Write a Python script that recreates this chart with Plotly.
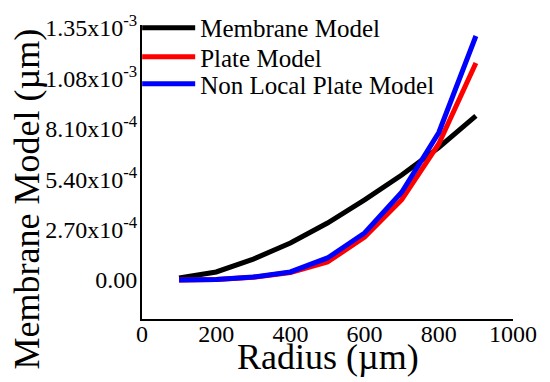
import plotly.graph_objects as go

radius = [100, 200, 300, 400, 500, 600, 700, 800, 900]
membrane = [1.1e-5, 4.3e-5, 1.12e-4, 1.98e-4, 3.05e-4, 4.29e-4, 5.62e-4, 7.1e-4, 8.79e-4]
plate = [0.0, 3e-6, 1.4e-5, 4.0e-5, 9.6e-5, 2.3e-4, 4.3e-4, 7.3e-4, 1.162e-3]
nonlocal_plate = [0.0, 3e-6, 1.6e-5, 4.3e-5, 1.18e-4, 2.52e-4, 4.7e-4, 7.9e-4, 1.307e-3]

series_names = ["Membrane Model", "Plate Model", "Non Local Plate Model"]
series_colors = ["#000000", "#ff0000", "#0000ff"]

ytick_vals = [0.0, 2.7e-4, 5.4e-4, 8.1e-4, 1.08e-3, 1.35e-3]
ytick_text = ["0.00", "2.70x10<sup>-4</sup>", "5.40x10<sup>-4</sup>", "8.10x10<sup>-4</sup>",
              "1.08x10<sup>-3</sup>", "1.35x10<sup>-3</sup>"]
xtick_vals = [0, 200, 400, 600, 800, 1000]

FONT = "Liberation Serif"
LEG_FONT = dict(family=FONT, size=25, color="black")

fig = go.Figure()
legend_ids = ["legend", "legend2", "legend3"]
for name, ys, col, lg in zip(series_names, [membrane, plate, nonlocal_plate], series_colors, legend_ids):
    fig.add_trace(go.Scatter(x=radius, y=ys, mode="lines", name=name, legend=lg,
                             line=dict(color=col, width=5)))

def leg(y):
    return dict(x=-0.013, y=y, xanchor="left", yanchor="middle", bgcolor="rgba(0,0,0,0)",
                font=LEG_FONT, itemwidth=53, borderwidth=0)

# page has an 8px body margin, so the figure is drawn 8px smaller and shifted
fig.update_layout(
    width=542, height=374,
    margin=dict(l=134, r=37, t=17, b=63, autoexpand=False),
    paper_bgcolor="white", plot_bgcolor="white",
    font=dict(family=FONT, color="black"),
    showlegend=True,
    legend=leg(0.990), legend2=leg(0.891), legend3=leg(0.799),
    xaxis=dict(range=[0, 1000], tickvals=xtick_vals, showgrid=False, zeroline=False,
               showline=True, linecolor="black", linewidth=2, ticks="", ticklen=0,
               automargin=False, ticklabelstandoff=-8,
               tickfont=dict(family=FONT, size=24, color="black")),
    yaxis=dict(range=[-2.09e-4, 1.366e-3], tickvals=ytick_vals, ticktext=ytick_text,
               showgrid=False, zeroline=False, showline=True, linecolor="black",
               linewidth=2, ticks="", ticklen=0, ticklabelstandoff=-2, automargin=False,
               tickfont=dict(family=FONT, size=24, color="black")),
    annotations=[
        dict(text="Membrane Model (µm)", textangle=-90, xref="paper", yref="paper",
             x=-0.31, y=0.41, xanchor="center", yanchor="middle", showarrow=False,
             font=dict(family=FONT, size=36, color="black")),
        dict(text="Radius (µm)", xref="paper", yref="paper",
             x=0.5, y=-0.128, xanchor="center", yanchor="middle", showarrow=False,
             font=dict(family=FONT, size=36, color="black")),
    ],
)

fig.write_html("out.html")
